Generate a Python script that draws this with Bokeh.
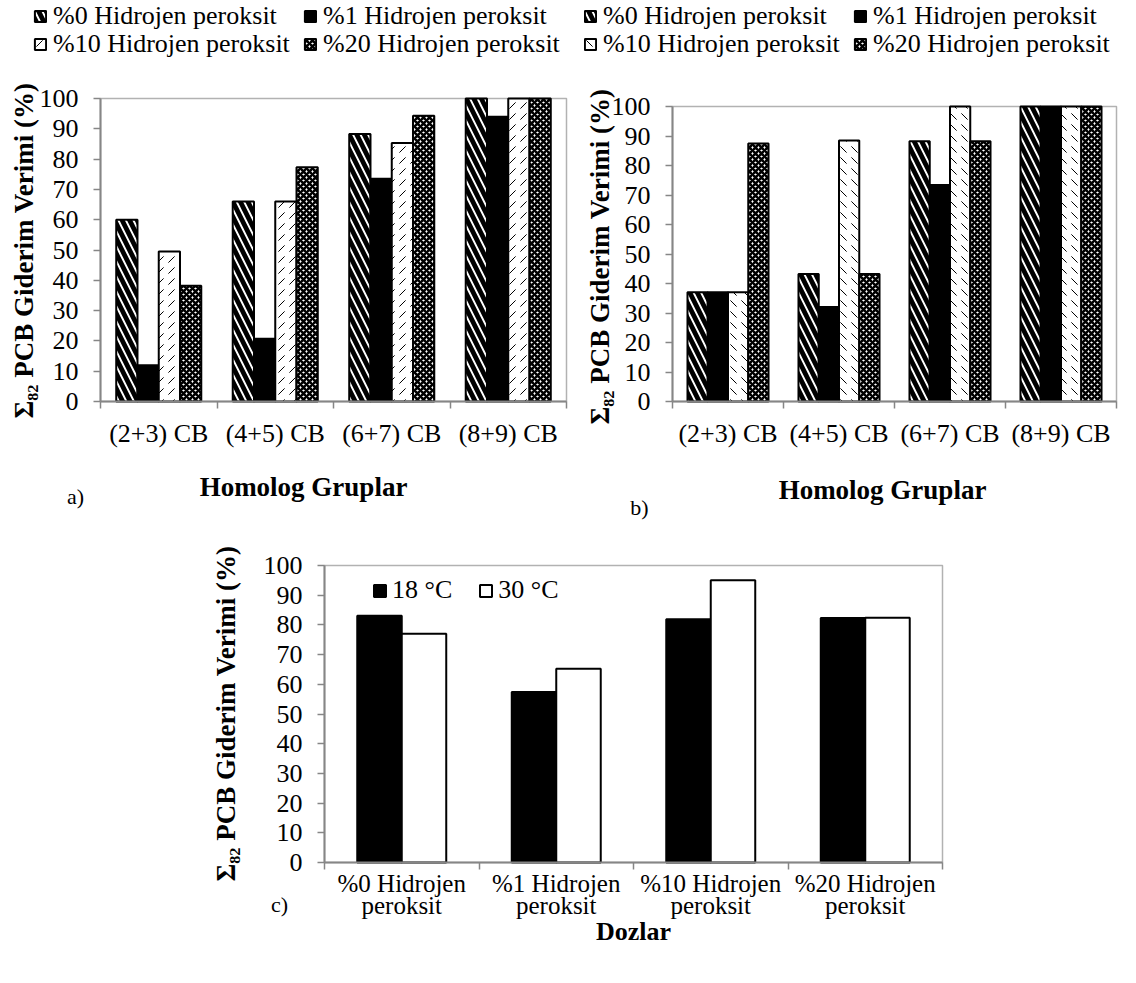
from math import pi
from bokeh.plotting import figure
from bokeh.models import Range1d, FixedTicker, Label, Legend, LegendItem, BoxAnnotation
from bokeh.layouts import column, row
from bokeh.embed import file_html
from bokeh.resources import INLINE

# ---------------- data ----------------
groups = ["(2+3) CB", "(4+5) CB", "(6+7) CB", "(8+9) CB"]
doses = ["%0 Hidrojen peroksit", "%1 Hidrojen peroksit",
         "%10 Hidrojen peroksit", "%20 Hidrojen peroksit"]
dose_ticks = ["%0 Hidrojen\nperoksit", "%1 Hidrojen\nperoksit",
              "%10 Hidrojen\nperoksit", "%20 Hidrojen\nperoksit"]

a_h0 = [60.0, 66.0, 88.3, 100.0]
a_h1 = [12.0, 20.7, 73.5, 94.0]
a_h10 = [49.5, 66.0, 85.3, 100.0]
a_h20 = [38.2, 77.3, 94.3, 100.0]

b_h0 = [37.0, 43.2, 88.2, 100.0]
b_h1 = [37.0, 32.0, 73.4, 100.0]
b_h10 = [37.0, 88.5, 100.0, 100.0]
b_h20 = [87.5, 43.2, 88.2, 100.0]

temps = ["18 °C", "30 °C"]
c_18 = [83.1, 57.4, 81.9, 82.3]
c_30 = [77.0, 65.2, 95.0, 82.4]

y_ticks = [0, 10, 20, 30, 40, 50, 60, 70, 80, 90, 100]
y_title = "Σ₈₂ PCB Giderim Verimi (%)"

FONT = "Liberation Serif"
GREY = "#868686"
PX, PY = 0, 0       # page offset of the layout (measured)
GEOM = {}


def make_fig(ox, oy, W, H, frame, labels):
    """Figure whose whole canvas is the frame; data box (0..n, 0..100) lands on `frame`."""
    fl, ft, fw, fh = frame
    n = len(labels)
    sx = fw / n
    sy = fh / 100.0
    xr = Range1d(-(fl - ox) / sx, n + (ox + W - (fl + fw)) / sx)
    yr = Range1d(-(oy + H - (ft + fh)) / sy, 100 + (ft - oy) / sy)
    p = figure(width=W, height=H, x_range=xr, y_range=yr, output_backend="svg",
               toolbar_location=None, min_border=0)
    p.outline_line_alpha = 0
    p.grid.visible = False
    p.border_fill_color = "white"
    p.add_layout(BoxAnnotation(left=0, right=n, bottom=0, top=100, fill_alpha=0,
                               line_color="black", line_width=1.5, level="underlay"))
    ya = p.yaxis[0]
    ya.fixed_location = 0
    ya.bounds = (0, 100)
    ya.ticker = FixedTicker(ticks=y_ticks)
    ya.axis_line_color = GREY
    ya.axis_line_width = 2
    ya.major_tick_line_color = GREY
    ya.major_tick_line_width = 1.5
    ya.major_tick_out = 7
    ya.major_tick_in = 0
    ya.minor_tick_line_alpha = 0
    ya.major_label_text_font = FONT
    ya.major_label_text_font_size = "26px"
    ya.major_label_text_color = "black"
    ya.major_label_standoff = 15
    xa = p.xaxis[0]
    xa.fixed_location = 0
    xa.bounds = (0, n)
    centers = [i + 0.5 for i in range(n)]
    xa.ticker = FixedTicker(ticks=centers, minor_ticks=list(range(n + 1)))
    xa.major_label_overrides = {c: lab for c, lab in zip(centers, labels)}
    xa.axis_line_color = GREY
    xa.axis_line_width = 2
    xa.major_tick_line_alpha = 0
    xa.major_tick_out = 0
    xa.major_tick_in = 0
    xa.minor_tick_line_color = GREY
    xa.minor_tick_line_width = 1.5
    xa.minor_tick_out = 7
    xa.minor_tick_in = 0
    xa.major_label_text_font = FONT
    xa.major_label_text_font_size = "26px"
    xa.major_label_text_color = "black"
    xa.major_label_standoff = 10
    GEOM[p.id] = (ox, oy, W, H, frame, n)
    return p


def add_text(p, px, py, text, size, bold=False, angle=0.0):
    ox, oy, W, H, (fl, ft, fw, fh), n = GEOM[p.id]
    xd = (px - fl) / fw * n
    yd = (ft + fh - py) / fh * 100.0
    p.add_layout(Label(x=xd, y=yd, text=text, angle=angle, text_align="center",
                       text_baseline="middle", text_font=FONT,
                       text_font_size=f"{size}px",
                       text_font_style="bold" if bold else "normal",
                       text_color="black"))


def add_legend(p, items, glyph_left, center_y, font=26, glyph=14, spacing=0, lh=28,
               standoff=6):
    ox, oy, W, H, frame, n = GEOM[p.id]
    vx = glyph_left - ox
    vy = (oy + H) - (center_y + lh / 2)
    leg = Legend(items=items, location=(vx, vy), orientation="horizontal",
                 padding=0, margin=0, spacing=spacing, glyph_width=glyph,
                 glyph_height=glyph, label_height=lh, label_standoff=standoff,
                 label_text_font=FONT, label_text_font_size=f"{font}px",
                 label_text_color="black", label_text_baseline="middle",
                 border_line_alpha=0, background_fill_alpha=0)
    p.add_layout(leg)


def style_list(third_pattern):
    return [
        dict(fill_color="white", hatch_pattern="\\", hatch_scale=15, hatch_weight=4.8,
             hatch_color="black"),
        dict(fill_color="black"),
        dict(fill_color="white", hatch_pattern=third_pattern, hatch_scale=11,
             hatch_weight=1, hatch_color="black"),
        dict(fill_color="white", hatch_pattern="x", hatch_scale=6, hatch_weight=2.6,
             hatch_color="black"),
    ]


def grouped_bars(p, series, styles, bw):
    n = len(series)
    rends = []
    for k, (vals, st) in enumerate(zip(series, styles)):
        off = (k - (n - 1) / 2) * bw
        xs = [i + 0.5 + off for i in range(len(vals))]
        r = p.vbar(x=xs, top=vals, bottom=0, width=bw, line_color="black",
                   line_width=2, **st)
        rends.append(r)
    return rends


TOP_H = 522
ROW1, ROW2 = 17, 45

# ---------------- chart a ----------------
A_W = 584
pa = make_fig(PX, PY, A_W, TOP_H, (100, 98, 466, 303), groups)
ra = grouped_bars(pa, [a_h0, a_h1, a_h10, a_h20], style_list(","), 0.1825)
for k, (gx, gy) in enumerate([(33, ROW1), (303, ROW1), (33, ROW2), (303, ROW2)]):
    add_legend(pa, [LegendItem(label=doses[k], renderers=[ra[k]])], gx, gy)
add_text(pa, 23, 250, y_title, 27, bold=True, angle=pi / 2)
add_text(pa, 303, 486, "Homolog Gruplar", 27, bold=True)
add_text(pa, 75, 496, "a)", 22)

# ---------------- chart b ----------------
B_W = 546
pb = make_fig(PX + A_W, PY, B_W, TOP_H, (672, 106, 444, 295), groups)
rb = grouped_bars(pb, [b_h0, b_h1, b_h10, b_h20], style_list("`"), 0.1825)
for k, (gx, gy) in enumerate([(583, ROW1), (853, ROW1), (583, ROW2), (853, ROW2)]):
    add_legend(pb, [LegendItem(label=doses[k], renderers=[rb[k]])], gx, gy)
add_text(pb, 599, 256, y_title, 27, bold=True, angle=pi / 2)
add_text(pb, 882, 489, "Homolog Gruplar", 27, bold=True)
add_text(pb, 639, 507, "b)", 22)

# ---------------- chart c ----------------
C_W, C_H = 1130, 458
pc = make_fig(PX, PY + TOP_H, C_W, C_H, (324, 565, 618, 297), dose_ticks)
pc.xaxis[0].major_label_standoff = 0
pc.xaxis[0].major_label_text_font_size = "25px"
pc.xaxis[0].major_label_text_line_height = 0.85
cst = [dict(fill_color="black"), dict(fill_color="white")]
rc = grouped_bars(pc, [c_18, c_30], cst, 0.288)
add_legend(pc, [LegendItem(label=temps[0], renderers=[rc[0]]),
                LegendItem(label=temps[1], renderers=[rc[1]])], 372, 591,
           font=26, glyph=15, spacing=26, lh=28, standoff=5)
add_text(pc, 225, 713, y_title, 27, bold=True, angle=pi / 2)
add_text(pc, 633, 931, "Dozlar", 26, bold=True)
add_text(pc, 279, 904, "c)", 22)

layout = column(row(pa, pb), pc)
open("out.html", "w").write(file_html(layout, INLINE))
